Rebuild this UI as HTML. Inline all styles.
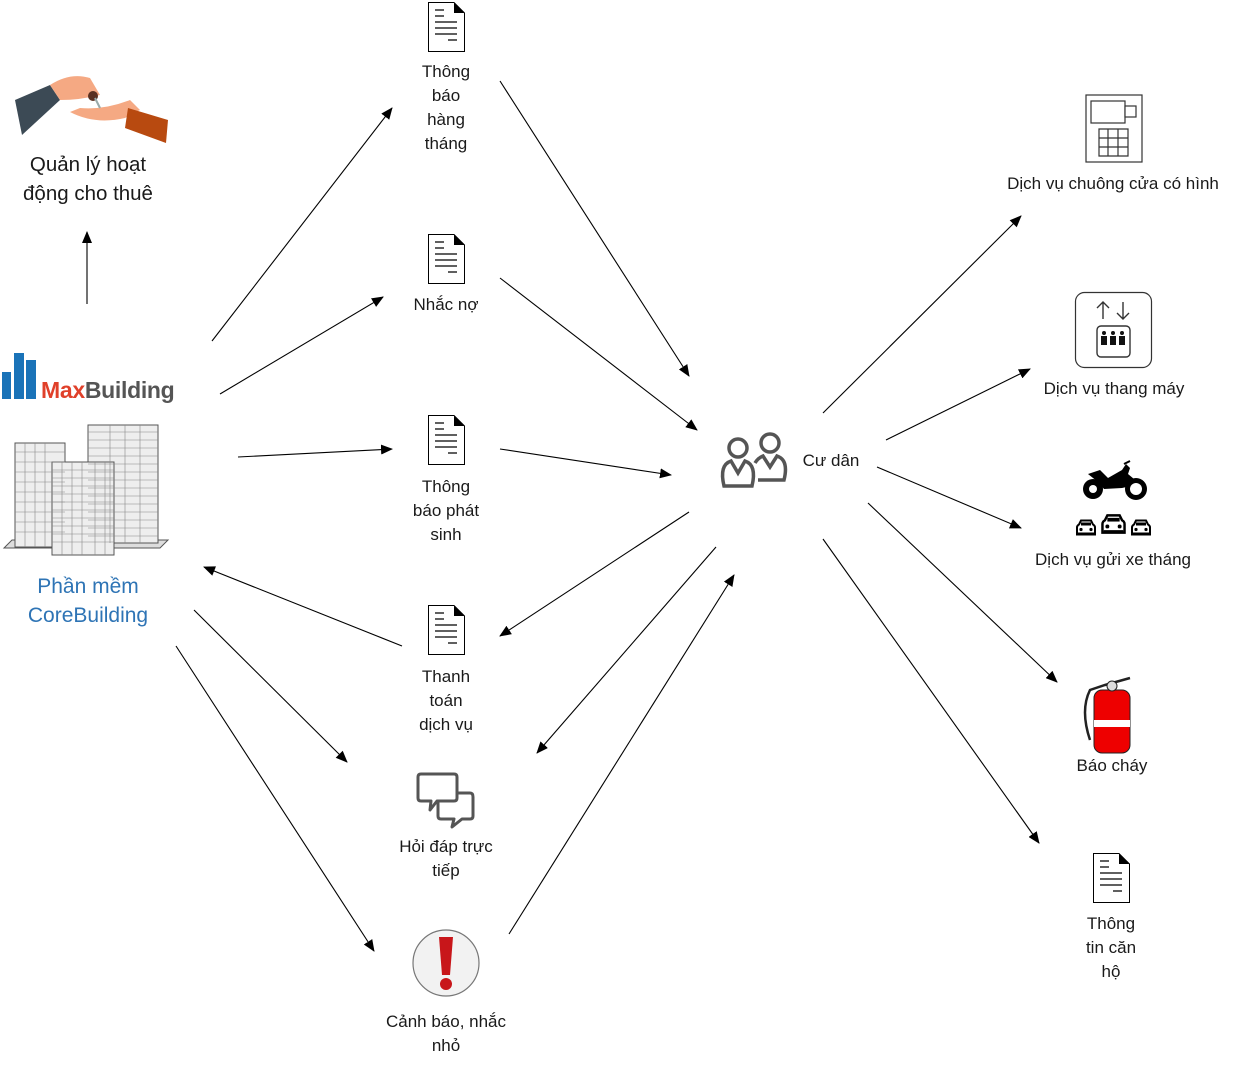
<!DOCTYPE html>
<html><head><meta charset="utf-8"><style>
html,body{margin:0;padding:0;background:#fff;}
svg{display:block;}
text{font-family:"Liberation Sans",sans-serif;fill:#1a1a1a;font-size:17px;text-anchor:middle;}
</style></head><body>
<svg width="1236" height="1067" viewBox="0 0 1236 1067" xmlns="http://www.w3.org/2000/svg">
<defs>
<marker id="a" markerWidth="12" markerHeight="10" refX="11" refY="5" orient="auto" markerUnits="userSpaceOnUse">
<path d="M0,0 L12,5 L0,10 z" fill="#000"/></marker>
<symbol id="doc" viewBox="0 0 37 50">
<path d="M0.5,0.5 H26 L36.5,11 V49.5 H0.5 z" fill="#fff" stroke="#000" stroke-width="1"/>
<path d="M26,0.5 L36.5,11 H26 z" fill="#000"/>
<path d="M7,8h9M7,14h9M7,20h22M7,26h22M7,32h22M20,38h9" stroke="#000" stroke-width="1.3"/>
</symbol>
<symbol id="car" viewBox="0 0 22 16">
<path d="M2,15 V8 Q2,6 4,5 L6,1 H16 L18,5 Q20,6 20,8 V15 z" fill="#fff" stroke="#000" stroke-width="2"/>
<rect x="6" y="3" width="10" height="3" fill="#000"/>
<circle cx="6" cy="10" r="1.6" fill="#000"/><circle cx="16" cy="10" r="1.6" fill="#000"/>
<rect x="3" y="13" width="16" height="2" fill="#000"/>
</symbol>
</defs>

<g stroke="#000" stroke-width="1.1" fill="none" marker-end="url(#a)">
<line x1="87" y1="304" x2="87" y2="232"/>
<line x1="212" y1="341" x2="392" y2="108"/>
<line x1="220" y1="394" x2="383" y2="297"/>
<line x1="238" y1="457" x2="392" y2="449"/>
<line x1="402" y1="646" x2="204" y2="567"/>
<line x1="194" y1="610" x2="347" y2="762"/>
<line x1="176" y1="646" x2="374" y2="951"/>
<line x1="500" y1="81" x2="689" y2="376"/>
<line x1="500" y1="278" x2="697" y2="430"/>
<line x1="500" y1="449" x2="671" y2="475"/>
<line x1="689" y1="512" x2="500" y2="636"/>
<line x1="716" y1="547" x2="537" y2="753"/>
<line x1="509" y1="934" x2="734" y2="575"/>
<line x1="823" y1="413" x2="1021" y2="216"/>
<line x1="886" y1="440" x2="1030" y2="369"/>
<line x1="877" y1="467" x2="1021" y2="528"/>
<line x1="868" y1="503" x2="1057" y2="682"/>
<line x1="823" y1="539" x2="1039" y2="843"/>
</g>

<path d="M15,100 L50,85 L60,100 L22,135 z" fill="#3c4a55"/>
<path d="M50,85 Q70,72 90,78 L100,95 Q80,100 60,100 z" fill="#f5a983"/>
<path d="M70,112 Q95,125 125,118 L140,110 L130,100 Q105,110 80,108 z" fill="#f5a983"/>
<path d="M128,108 L168,120 L166,143 L125,128 z" fill="#b84a10"/>
<circle cx="93" cy="96" r="5" fill="#5a3020"/><path d="M95,98 l5,10" stroke="#9aa" stroke-width="2"/>

<text x="88" y="171" style="font-size:20.5px">Quản lý hoạt</text>
<text x="88" y="200" style="font-size:20.5px">động cho thuê</text>

<rect x="2" y="372" width="9" height="27" fill="#1a73b8"/>
<rect x="14" y="353" width="10" height="46" fill="#1a73b8"/>
<rect x="26" y="360" width="10" height="39" fill="#1a73b8"/>
<text x="41" y="398" style="font-size:23px;font-weight:bold;text-anchor:start;fill:#e0402a;letter-spacing:-0.3px">Max<tspan style="fill:#555">Building</tspan></text>

<g stroke="#555" stroke-width="1" fill="#eee">
<path d="M4,548 L160,548 L168,540 L12,540 z" fill="#ddd"/>
<rect x="88" y="425" width="70" height="118"/>
<rect x="15" y="443" width="50" height="104"/>
<rect x="52" y="462" width="62" height="93"/>
</g>
<g stroke="#888" stroke-width="0.6">
<path d="M88,432h70M88,440h70M88,448h70M88,456h70M88,464h70M88,472h70M88,480h70M88,488h70M88,496h70M88,504h70M88,512h70M88,520h70M88,528h70M88,536h70"/>
<path d="M15,452h50M15,462h50M15,472h50M15,482h50M15,492h50M15,502h50M15,512h50M15,522h50M15,532h50"/>
<path d="M52,470h62M52,478h62M52,486h62M52,494h62M52,502h62M52,510h62M52,518h62M52,526h62M52,534h62M52,542h62"/>
<path d="M25,443v104M35,443v104M45,443v104M62,462v93M72,462v93M82,462v93M95,462v93M105,462v93M110,425v118M125,425v118M140,425v118"/>
</g>

<text x="88" y="593" style="font-size:21px;fill:#2e74b5">Phần mềm</text>
<text x="88" y="622" style="font-size:21px;fill:#2e74b5">CoreBuilding</text>

<use href="#doc" x="428" y="2" width="37" height="50"/>
<text x="446" y="77">Thông</text><text x="446" y="101">báo</text><text x="446" y="125">hàng</text><text x="446" y="149">tháng</text>

<use href="#doc" x="428" y="234" width="37" height="50"/>
<text x="446" y="310">Nhắc nợ</text>

<use href="#doc" x="428" y="415" width="37" height="50"/>
<text x="446" y="492">Thông</text><text x="446" y="516">báo phát</text><text x="446" y="540">sinh</text>

<use href="#doc" x="428" y="605" width="37" height="50"/>
<text x="446" y="682">Thanh</text><text x="446" y="706">toán</text><text x="446" y="730">dịch vụ</text>

<g fill="#fff" stroke="#555" stroke-width="3" stroke-linejoin="round">
<path d="M441,793 H470 Q473,793 473,797 V816 Q473,819 470,819 H462 L452,827 L454,819 H441 Q438,819 438,816 V797 Q438,793 441,793 z"/>
<path d="M421,774 H454 Q457,774 457,777 V798 Q457,801 454,801 H437 L430,810 L431,801 H421 Q418,801 418,798 V777 Q418,774 421,774 z"/>
</g>
<text x="446" y="852">Hỏi đáp trực</text><text x="446" y="876">tiếp</text>

<circle cx="446" cy="963" r="33" fill="#f2f2f2" stroke="#777" stroke-width="1.2"/>
<path d="M439,937 H453 L450,975 H442 z" fill="#c8161a"/>
<circle cx="446" cy="984" r="6" fill="#c8161a"/>
<text x="446" y="1027">Cảnh báo, nhắc</text><text x="446" y="1051">nhỏ</text>

<g fill="none" stroke="#555" stroke-width="3.5">
<circle cx="738" cy="448" r="9"/>
<circle cx="770" cy="443" r="9"/>
<path d="M724,486 Q719,465 731,461 L738,473 L745,461 Q757,465 752,486 z"/>
<path d="M758,480 H784 Q789,460 777,456 L770,467 L763,456 Q758,458 755,463"/>
</g>
<text x="831" y="466">Cư dân</text>

<rect x="1086" y="95" width="56" height="67" fill="#fff" stroke="#333" stroke-width="1.2"/>
<rect x="1091" y="101" width="34" height="22" fill="#fff" stroke="#333" stroke-width="1.2"/>
<rect x="1125" y="106" width="11" height="11" fill="#fff" stroke="#333" stroke-width="1.2"/>
<path d="M1099,129h29v27h-29zM1099,138h29M1099,147h29M1108,129v27M1118,129v27" fill="none" stroke="#333" stroke-width="1.2"/>
<text x="1113" y="189">Dịch vụ chuông cửa có hình</text>

<rect x="1075.5" y="292.5" width="76" height="75" rx="9" fill="#fff" stroke="#333" stroke-width="1.2"/>
<path d="M1103,319v-17M1097,308l6,-6l6,6M1123,302v17M1117,313l6,6l6,-6" fill="none" stroke="#333" stroke-width="1.4"/>
<rect x="1097" y="326" width="33" height="31" rx="4" fill="#fff" stroke="#333" stroke-width="1.4"/>
<g fill="#111"><rect x="1101" y="336" width="6" height="9"/><rect x="1110" y="336" width="6" height="9"/><rect x="1119" y="336" width="6" height="9"/>
<circle cx="1104" cy="333" r="2"/><circle cx="1113" cy="333" r="2"/><circle cx="1122" cy="333" r="2"/></g>
<text x="1114" y="394">Dịch vụ thang máy</text>

<g fill="#000">
<circle cx="1093" cy="489" r="10"/><circle cx="1136" cy="489" r="11"/>
<path d="M1088,474 L1100,470 L1108,478 L1122,470 L1126,464 L1130,468 L1128,474 L1140,484 L1122,488 L1104,489 L1098,482 z"/>
<path d="M1124,464 l6,-3" stroke="#000" stroke-width="2"/>
</g>
<circle cx="1093" cy="489" r="4" fill="#fff"/><circle cx="1136" cy="489" r="6" fill="#fff"/>
<use href="#car" x="1075" y="519" width="22" height="17"/>
<use href="#car" x="1100" y="511" width="27" height="26"/>
<use href="#car" x="1130" y="519" width="22" height="17"/>
<text x="1113" y="565">Dịch vụ gửi xe tháng</text>

<path d="M1090,740 Q1080,710 1090,690 L1105,685 L1130,678" fill="none" stroke="#222" stroke-width="2.5"/>
<rect x="1094" y="690" width="36" height="63" rx="8" fill="#e00" stroke="#222" stroke-width="1"/>
<rect x="1094" y="720" width="36" height="7" fill="#fff"/>
<circle cx="1112" cy="686" r="5" fill="#ddd" stroke="#222"/>
<text x="1112" y="771">Báo cháy</text>

<use href="#doc" x="1093" y="853" width="37" height="50"/>
<text x="1111" y="929">Thông</text><text x="1111" y="953">tin căn</text><text x="1111" y="977">hộ</text>
</svg>
</body></html>
